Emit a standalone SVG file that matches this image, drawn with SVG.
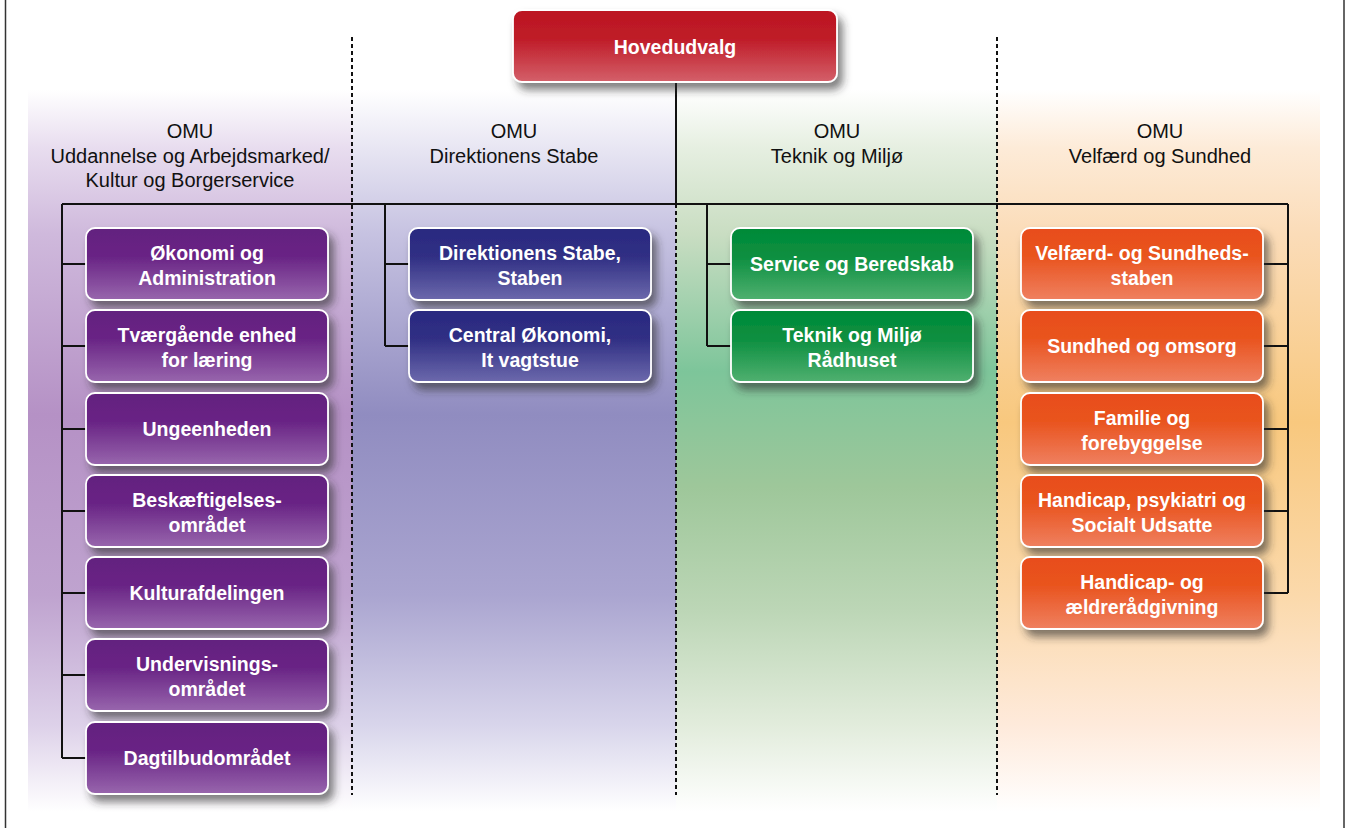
<svg xmlns="http://www.w3.org/2000/svg" width="1346" height="828" viewBox="0 0 1346 828">
<defs>
<linearGradient id="bgP" x1="0" y1="90" x2="0" y2="812" gradientUnits="userSpaceOnUse">
<stop offset="0" stop-color="#ffffff"/><stop offset="0.08" stop-color="#e8ddef"/><stop offset="0.2" stop-color="#cfb9dc"/><stop offset="0.45" stop-color="#b591c5"/><stop offset="0.7" stop-color="#bfa3cf"/><stop offset="0.88" stop-color="#ddd1e9"/><stop offset="1" stop-color="#ffffff"/>
</linearGradient>
<linearGradient id="bgB" x1="0" y1="90" x2="0" y2="812" gradientUnits="userSpaceOnUse">
<stop offset="0" stop-color="#ffffff"/><stop offset="0.08" stop-color="#e8e6f3"/><stop offset="0.2" stop-color="#c6c2e1"/><stop offset="0.45" stop-color="#908cc0"/><stop offset="0.7" stop-color="#aaa5d0"/><stop offset="0.88" stop-color="#d8d5eb"/><stop offset="1" stop-color="#ffffff"/>
</linearGradient>
<linearGradient id="bgG" x1="0" y1="90" x2="0" y2="812" gradientUnits="userSpaceOnUse">
<stop offset="0" stop-color="#ffffff"/><stop offset="0.08" stop-color="#e6efe1"/><stop offset="0.2" stop-color="#c9ddc2"/><stop offset="0.39" stop-color="#7dc59a"/><stop offset="0.55" stop-color="#9ec79a"/><stop offset="0.72" stop-color="#bcd6b6"/><stop offset="0.88" stop-color="#e2ecdc"/><stop offset="1" stop-color="#ffffff"/>
</linearGradient>
<linearGradient id="bgO" x1="0" y1="90" x2="0" y2="812" gradientUnits="userSpaceOnUse">
<stop offset="0" stop-color="#ffffff"/><stop offset="0.08" stop-color="#fdebd8"/><stop offset="0.2" stop-color="#fbdcb8"/><stop offset="0.46" stop-color="#f8c87e"/><stop offset="0.7" stop-color="#fbd9ab"/><stop offset="0.88" stop-color="#feeadb"/><stop offset="1" stop-color="#ffffff"/>
</linearGradient>
<linearGradient id="gR" x1="0" y1="0" x2="0" y2="1"><stop offset="0" stop-color="#bc1622"/><stop offset="0.4" stop-color="#bf1c28"/><stop offset="1" stop-color="#d4606a"/></linearGradient>
<linearGradient id="gP" x1="0" y1="0" x2="0" y2="1"><stop offset="0" stop-color="#63207f"/><stop offset="0.4" stop-color="#692485"/><stop offset="1" stop-color="#9866ad"/></linearGradient>
<linearGradient id="gB" x1="0" y1="0" x2="0" y2="1"><stop offset="0" stop-color="#2a2a80"/><stop offset="0.4" stop-color="#302f84"/><stop offset="1" stop-color="#6c69ac"/></linearGradient>
<linearGradient id="gG" x1="0" y1="0" x2="0" y2="1"><stop offset="0" stop-color="#008a38"/><stop offset="0.4" stop-color="#0c8f40"/><stop offset="1" stop-color="#50b070"/></linearGradient>
<linearGradient id="gO" x1="0" y1="0" x2="0" y2="1"><stop offset="0" stop-color="#e84d1c"/><stop offset="0.4" stop-color="#e9541f"/><stop offset="1" stop-color="#ef8060"/></linearGradient>
<filter id="sh" x="-10%" y="-20%" width="125%" height="150%">
<feDropShadow dx="5" dy="7" stdDeviation="4" flood-color="#2a2a2a" flood-opacity="0.6"/>
</filter>
<style>
.box{stroke:#ffffff;stroke-width:1.8;filter:url(#sh)}
.bt{font-family:"Liberation Sans",Arial,sans-serif;font-weight:bold;font-size:19.5px;fill:#ffffff;text-anchor:middle}
.hd{font-family:"Liberation Sans",Arial,sans-serif;font-size:20px;fill:#111111;text-anchor:middle}
.con{stroke:#111111;stroke-width:2;fill:none}
.dash{stroke:#111111;stroke-width:2;stroke-dasharray:4 3;fill:none}
.frame{stroke:#333333;stroke-width:1.5}
</style>
</defs>
<rect width="1346" height="828" fill="#ffffff"/>
<line class="frame" x1="5.5" y1="0" x2="5.5" y2="828"/>
<line class="frame" x1="1344" y1="0" x2="1344" y2="828"/>
<g id="backgrounds">
<rect x="28" y="90" width="324" height="722" fill="url(#bgP)"/>
<rect x="352" y="90" width="324" height="722" fill="url(#bgB)"/>
<rect x="676" y="90" width="321" height="722" fill="url(#bgG)"/>
<rect x="997" y="90" width="323" height="722" fill="url(#bgO)"/>
</g>
<g id="dividers">
<line class="dash" x1="352" y1="37" x2="352" y2="795"/>
<line class="dash" x1="997" y1="37" x2="997" y2="795"/>
<line class="dash" x1="676" y1="204" x2="676" y2="795"/>
</g>
<g id="headers">
<text class="hd" x="190" y="138">OMU</text>
<text class="hd" x="190" y="163">Uddannelse og Arbejdsmarked/</text>
<text class="hd" x="190" y="187">Kultur og Borgerservice</text>
<text class="hd" x="514" y="138">OMU</text>
<text class="hd" x="514" y="163">Direktionens Stabe</text>
<text class="hd" x="837" y="138">OMU</text>
<text class="hd" x="837" y="163">Teknik og Miljø</text>
<text class="hd" x="1160" y="138">OMU</text>
<text class="hd" x="1160" y="163">Velfærd og Sundhed</text>
</g>
<g id="connectors">
<path class="con" d="M676 82 V204 M62 204 H1288"/>
<path class="con" d="M62 204 V758 M62 264 H86 M62 346 H86 M62 429 H86 M62 511 H86 M62 593 H86 M62 675 H86 M62 758 H86"/>
<path class="con" d="M385 204 V346 M385 264 H409 M385 346 H409"/>
<path class="con" d="M707 204 V346 M707 264 H731 M707 346 H731"/>
<path class="con" d="M1288 204 V593 M1263 264 H1288 M1263 346 H1288 M1263 429 H1288 M1263 511 H1288 M1263 593 H1288"/>
</g>
<g id="n-hovedudvalg"><rect class="box" x="513" y="10" width="324" height="72" rx="9" fill="url(#gR)"/><text class="bt" x="675" y="54">Hovedudvalg</text></g>

<g id="n-okonomi"><rect class="box" x="86" y="228" width="242" height="72" rx="9" fill="url(#gP)"/><text class="bt" x="207" y="260">Økonomi og</text><text class="bt" x="207" y="285">Administration</text></g>
<g id="n-tvaergaaende"><rect class="box" x="86" y="310" width="242" height="72" rx="9" fill="url(#gP)"/><text class="bt" x="207" y="342">Tværgående enhed</text><text class="bt" x="207" y="367">for læring</text></g>
<g id="n-ungeenheden"><rect class="box" x="86" y="393" width="242" height="72" rx="9" fill="url(#gP)"/><text class="bt" x="207" y="436">Ungeenheden</text></g>
<g id="n-beskaeftigelse"><rect class="box" x="86" y="475" width="242" height="72" rx="9" fill="url(#gP)"/><text class="bt" x="207" y="507">Beskæftigelses-</text><text class="bt" x="207" y="532">området</text></g>
<g id="n-kultur"><rect class="box" x="86" y="557" width="242" height="72" rx="9" fill="url(#gP)"/><text class="bt" x="207" y="600">Kulturafdelingen</text></g>
<g id="n-undervisning"><rect class="box" x="86" y="639" width="242" height="72" rx="9" fill="url(#gP)"/><text class="bt" x="207" y="671">Undervisnings-</text><text class="bt" x="207" y="696">området</text></g>
<g id="n-dagtilbud"><rect class="box" x="86" y="722" width="242" height="72" rx="9" fill="url(#gP)"/><text class="bt" x="207" y="765">Dagtilbudområdet</text></g>

<g id="n-direktion"><rect class="box" x="409" y="228" width="242" height="72" rx="9" fill="url(#gB)"/><text class="bt" x="530" y="260">Direktionens Stabe,</text><text class="bt" x="530" y="285">Staben</text></g>
<g id="n-central"><rect class="box" x="409" y="310" width="242" height="72" rx="9" fill="url(#gB)"/><text class="bt" x="530" y="342">Central Økonomi,</text><text class="bt" x="530" y="367">It vagtstue</text></g>

<g id="n-service"><rect class="box" x="731" y="228" width="242" height="72" rx="9" fill="url(#gG)"/><text class="bt" x="852" y="271">Service og Beredskab</text></g>
<g id="n-teknik"><rect class="box" x="731" y="310" width="242" height="72" rx="9" fill="url(#gG)"/><text class="bt" x="852" y="342">Teknik og Miljø</text><text class="bt" x="852" y="367">Rådhuset</text></g>

<g id="n-velfaerd"><rect class="box" x="1021" y="228" width="242" height="72" rx="9" fill="url(#gO)"/><text class="bt" x="1142" y="260">Velfærd- og Sundheds-</text><text class="bt" x="1142" y="285">staben</text></g>
<g id="n-sundhed"><rect class="box" x="1021" y="310" width="242" height="72" rx="9" fill="url(#gO)"/><text class="bt" x="1142" y="353">Sundhed og omsorg</text></g>
<g id="n-familie"><rect class="box" x="1021" y="393" width="242" height="72" rx="9" fill="url(#gO)"/><text class="bt" x="1142" y="425">Familie og</text><text class="bt" x="1142" y="450">forebyggelse</text></g>
<g id="n-handicap"><rect class="box" x="1021" y="475" width="242" height="72" rx="9" fill="url(#gO)"/><text class="bt" x="1142" y="507">Handicap, psykiatri og</text><text class="bt" x="1142" y="532">Socialt Udsatte</text></g>
<g id="n-aeldre"><rect class="box" x="1021" y="557" width="242" height="72" rx="9" fill="url(#gO)"/><text class="bt" x="1142" y="589">Handicap- og</text><text class="bt" x="1142" y="614">ældrerådgivning</text></g>
</svg>
